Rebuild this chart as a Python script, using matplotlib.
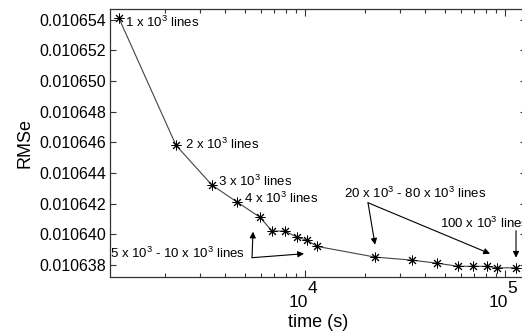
import numpy as np
import matplotlib
matplotlib.use("Agg")
import matplotlib.pyplot as plt
import matplotlib.transforms as mtransforms
from matplotlib.ticker import FixedLocator, NullFormatter

plt.rcParams['font.family'] = ['Liberation Sans', 'DejaVu Sans']
plt.rcParams['mathtext.fontset'] = 'custom'
plt.rcParams['mathtext.rm'] = 'Liberation Sans'
plt.rcParams['mathtext.it'] = 'Liberation Sans:italic'

# data
lines_k = [1, 2, 3, 4, 5, 6, 7, 8, 9, 10, 20, 30, 40, 50, 60, 70, 80, 100]
time_s = [1175, 2265, 3428, 4571, 5957, 6839, 7943, 9120, 10230, 11480,
          22390, 34280, 45710, 58210, 69180, 81280, 91200, 113500]
rmse = [0.0106541, 0.0106458, 0.0106432, 0.0106421, 0.0106411, 0.0106402,
        0.0106402, 0.0106398, 0.0106396, 0.0106392, 0.0106385, 0.0106383,
        0.0106381, 0.0106379, 0.0106379, 0.0106379, 0.0106378, 0.0106378]
y_ticks = [0.010638, 0.010640, 0.010642, 0.010644, 0.010646,
           0.010648, 0.010650, 0.010652, 0.010654]
x_major = [1e4, 1e5]

fig = plt.figure(figsize=(5.22, 3.34), dpi=100)
ax = fig.add_axes([0.2107, 0.1707, 0.797, 0.802])

ax.plot(time_s, rmse, color='#444444', lw=0.8,
        marker=(8, 2, 0), ms=7, mec='black', mew=0.7)

ax.set_xscale('log')
ax.set_xlim(1059, 127350)
ax.set_ylim(0.0106372, 0.0106547)
ax.set_yticks(y_ticks)
ax.set_yticklabels([f"{v:.6f}" for v in y_ticks])
ax.xaxis.set_major_locator(FixedLocator(x_major))
ax.xaxis.set_major_formatter(NullFormatter())
ax.xaxis.set_minor_formatter(NullFormatter())

ax.tick_params(which='both', direction='in', top=True, right=True,
               color='#333333', width=0.8)
ax.tick_params(axis='y', which='major', length=4, labelsize=11.5, pad=3)
ax.tick_params(axis='x', which='major', length=5)
ax.tick_params(axis='x', which='minor', length=3)
for sp in ax.spines.values():
    sp.set_color('#333333')
    sp.set_linewidth(0.9)

# MATLAB style 10^n tick labels
base = mtransforms.blended_transform_factory(ax.transData, ax.transAxes)
for xv in x_major:
    exp = int(round(np.log10(xv)))
    tr10 = mtransforms.offset_copy(base, fig=fig, x=-4.5, y=-18.5, units='points')
    ax.text(xv, 0, "10", transform=tr10, ha='center', va='center', fontsize=12.5)
    tre = mtransforms.offset_copy(base, fig=fig, x=5.5, y=-8.5, units='points')
    ax.text(xv, 0, str(exp), transform=tre, ha='center', va='center', fontsize=12.5)

ax.set_xlabel("time (s)", fontsize=13, labelpad=23)
ax.set_ylabel("RMSe", fontsize=13, labelpad=4)

# point labels
fs = 9.5
for i, dx, dy in [(0, 4.3, -3.2), (1, 6.5, 1.0), (2, 4.3, 2.4), (3, 5.0, 2.4)]:
    ax.annotate(f"{lines_k[i]} x 10$^3$ lines", (time_s[i], rmse[i]),
                xytext=(dx, dy), textcoords='offset points',
                ha='left', va='center', fontsize=fs)

arrow = dict(arrowstyle='-|>', color='black', lw=0.8, mutation_scale=9,
             shrinkA=0, shrinkB=0)

# 5k - 10k cluster
ax.text(5012, 0.01063872, "5 x 10$^3$ - 10 x 10$^3$ lines",
        ha='right', va='center', fontsize=fs)
ax.annotate("", xy=(5495, 0.01064016), xytext=(5433, 0.01063846), arrowprops=arrow)
ax.annotate("", xy=(9886, 0.01063872), xytext=(5433, 0.01063846), arrowprops=arrow)

# 20k - 80k cluster
ax.text(35480, 0.01064264, "20 x 10$^3$ - 80 x 10$^3$ lines",
        ha='center', va='center', fontsize=fs)
ax.annotate("", xy=(22390, 0.01063931), xytext=(20650, 0.01064205), arrowprops=arrow)
ax.annotate("", xy=(84140, 0.01063872), xytext=(20650, 0.01064205), arrowprops=arrow)

# 100k (cut by the right edge, as in the reference)
ax.text(47320, 0.01064068, "100 x 10$^3$ lines", ha='left', va='center',
        fontsize=fs, clip_on=False)
ax.annotate("", xy=(time_s[-1], 0.01063846), xytext=(time_s[-1], 0.01064022),
            arrowprops=arrow)

fig.savefig("out.png", dpi=100)
